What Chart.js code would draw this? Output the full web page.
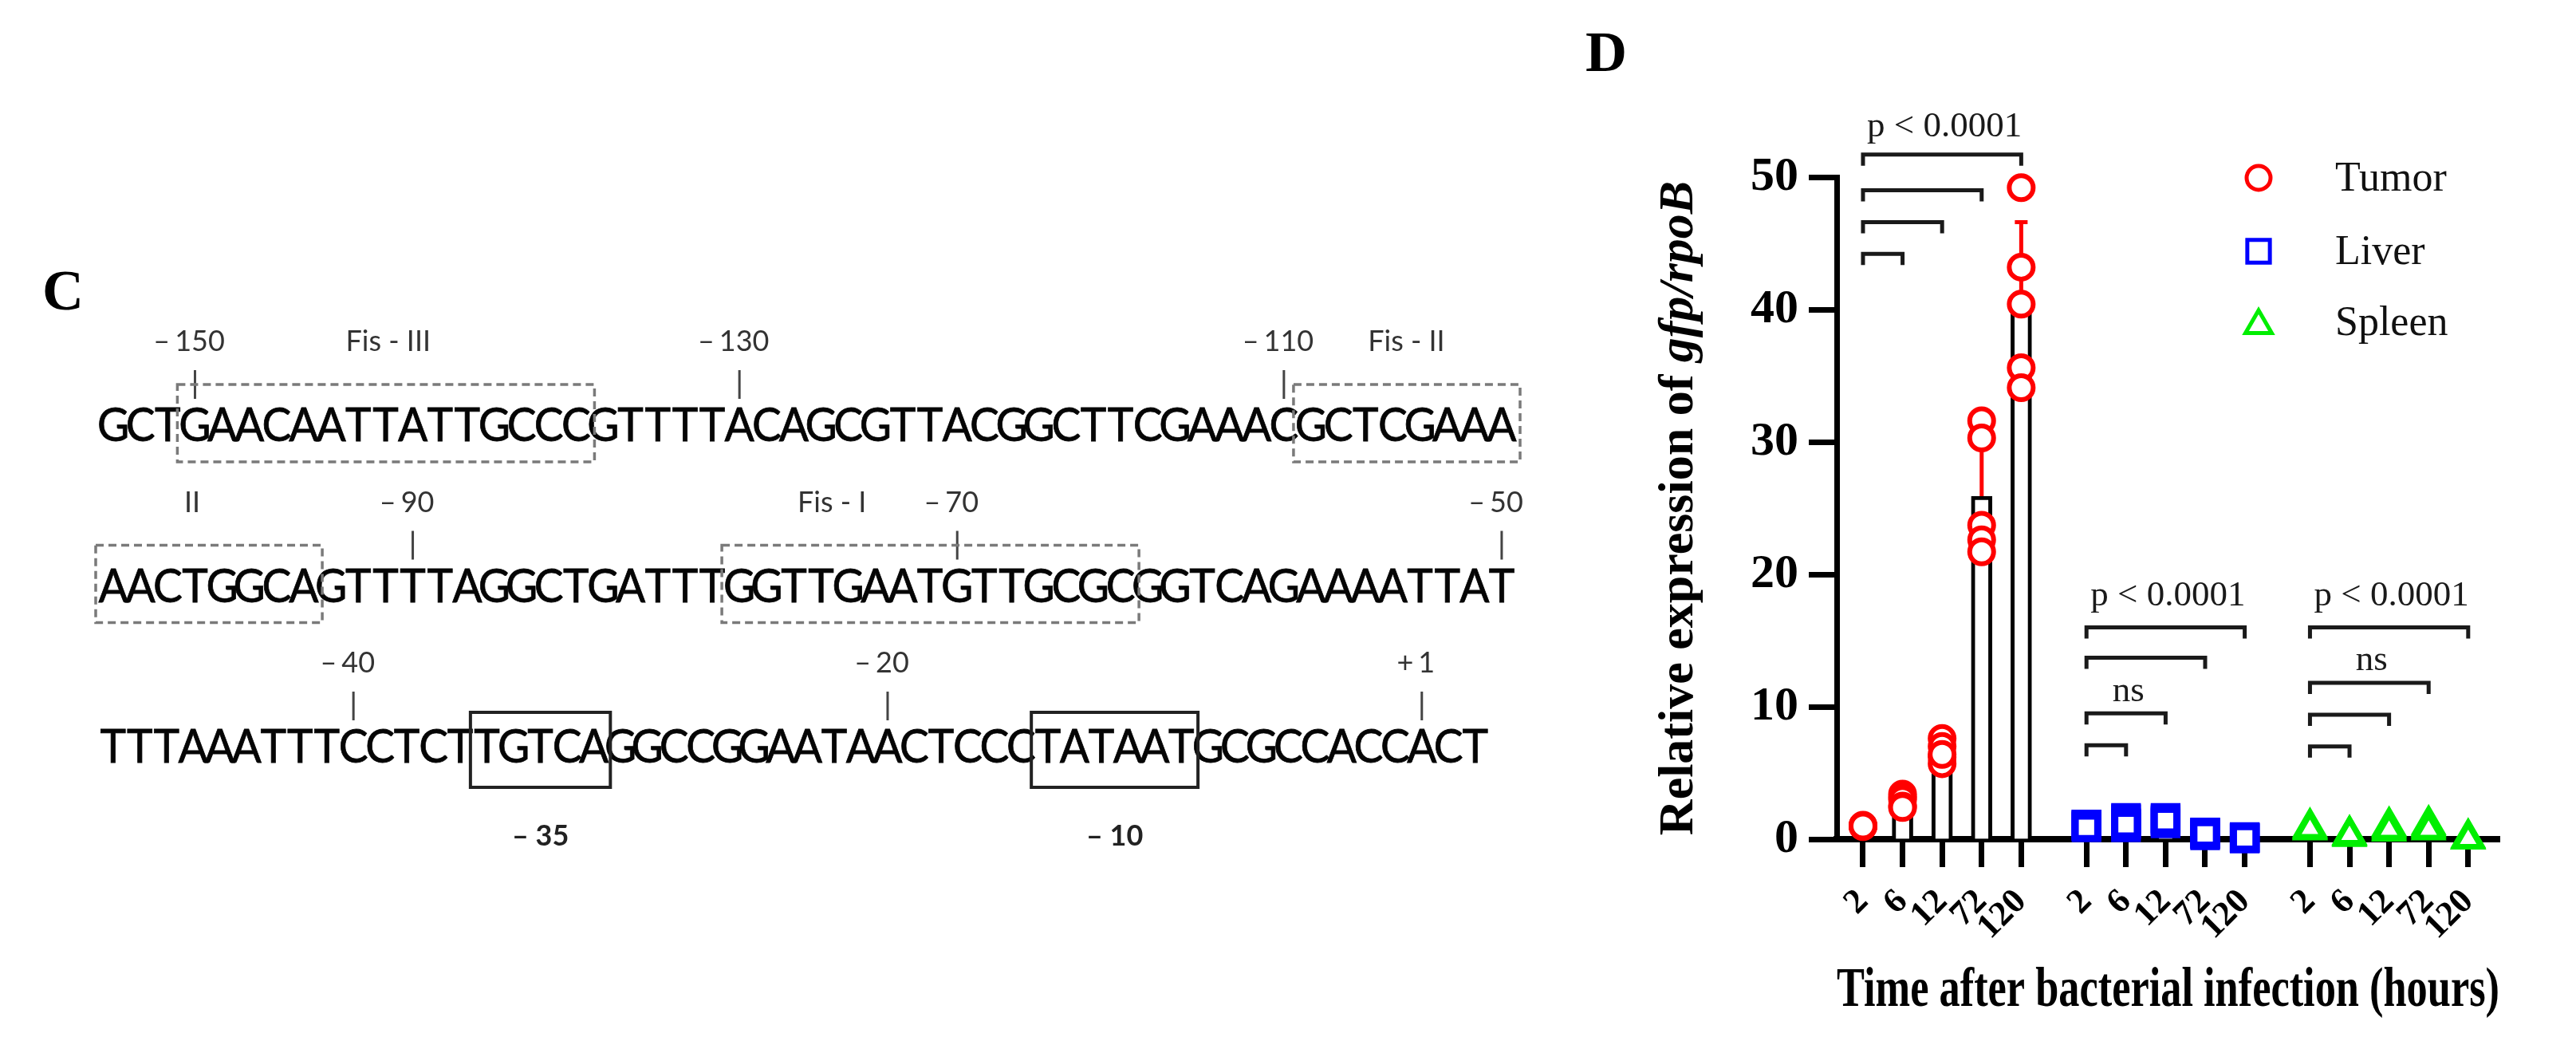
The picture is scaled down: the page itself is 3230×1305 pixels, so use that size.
<!DOCTYPE html>
<html>
<head>
<meta charset="utf-8">
<title>Fis promoter / gfp expression</title>
<script src="https://cdn.jsdelivr.net/npm/chart.js@4.4.1/dist/chart.umd.min.js"></script>
<style>
  html, body { margin: 0; padding: 0; background: #fff; }
  #wrap { position: relative; width: 3230px; height: 1305px; }
  #panelC { position: absolute; left: 0; top: 0; }
  #panelD { position: absolute; left: 1960px; top: 0; }
</style>
</head>
<body>
<div id="wrap">
  <canvas id="panelC" width="1960" height="1305"></canvas>
  <canvas id="panelD" width="1270" height="1305"></canvas>
</div>
<script>
// ---------- panel C : promoter sequence ----------
const seqRows = [
  'GCTGAACAATTATTGCCCGTTTTACAGCGTTACGGCTTCGAAACGCTCGAAA',
  'AACTGGCAGTTTTAGGCTGATTTGGTTGAATGTTGCGCGGTCAGAAAATTAT',
  'TTTAAATTTCCTCTTGTCAGGCCGGAATAACTCCCTATAATGCGCCACCACT'
]
// numbered positions: row, base index in the row, label
const posRows = [0, 0, 0, 1, 1, 1, 2, 2, 2]
const posBases = [3, 23, 43, 11, 31, 51, 9, 29, 49]
const posSigns = ['–', '–', '–', '–', '–', '–', '–', '–', '+']
const posNums = ['150', '130', '110', '90', '70', '50', '40', '20', '1']
// Fis binding sites (dashed boxes)
const fisRows = [0, 0, 1, 1]
const fisFrom = [3, 44, 0, 23]
const fisTo = [17, 51, 7, 37]
const fisLabelRows = [0, 0, 1, 1]
const fisLabelAt = [10.6, 48, 3.4, 26.9]
const fisLabelText = ['Fis - III', 'Fis - II', 'II', 'Fis - I']
// -35 / -10 boxes on row 3
const boxFrom = [14, 35]
const boxTo = [18, 40]
const boxText = ['– 35', '– 10']

const serif = '"Liberation Serif", "Times New Roman", serif'
const sans = 'Lato, "Open Sans", sans-serif'

const seqPlugin = {
  id: 'seqPlugin',
  afterDraw(chart) {
    const ctx = chart.ctx
    const y = chart.scales.y
    const xs = r => r === 2 ? chart.scales.x3 : chart.scales.x
    ctx.save()
    // panel letter
    ctx.fillStyle = '#000'
    ctx.font = 'bold 72px ' + serif
    ctx.textAlign = 'center'
    ctx.textBaseline = 'alphabetic'
    ctx.fillText('C', 79, 388)

    // bases
    ctx.font = '58px ' + sans
    ctx.fillStyle = '#050505'
    ctx.strokeStyle = '#050505'
    ctx.lineWidth = 0.8
    seqRows.forEach((s, r) => {
      const sx = xs(r)
      const yc = y.getPixelForValue(r)
      for (let i = 0; i < s.length; i++) {
        const cx = sx.getPixelForValue(i + 0.5)
        ctx.save()
        ctx.translate(cx, yc + 20)
        ctx.scale(0.95, 1)
        ctx.fillText(s[i], 0, 0)
        ctx.strokeText(s[i], 0, 0)
        ctx.restore()
      }
    })

    // position ticks + numbers
    ctx.font = '36px ' + sans
    ctx.fillStyle = '#333'
    ctx.strokeStyle = '#444'
    ctx.lineWidth = 3
    posBases.forEach((b, k) => {
      const r = posRows[k]
      const cx = xs(r).getPixelForValue(b + 0.5)
      const yc = y.getPixelForValue(r)
      ctx.beginPath()
      ctx.moveTo(cx, yc - 69)
      ctx.lineTo(cx, yc - 33)
      ctx.stroke()
      const nw = ctx.measureText(posNums[k]).width
      ctx.textAlign = 'center'
      ctx.fillText(posNums[k], cx + 6, yc - 93)
      ctx.textAlign = 'right'
      ctx.fillText(posSigns[k], cx + 6 - nw / 2 - 6, yc - 93)
    })

    // Fis labels
    ctx.textAlign = 'center'
    fisLabelText.forEach((t, k) => {
      const r = fisLabelRows[k]
      ctx.fillText(t, xs(r).getPixelForValue(fisLabelAt[k]), y.getPixelForValue(r) - 93)
    })

    // dashed boxes
    ctx.setLineDash([10, 6])
    ctx.strokeStyle = '#7a7a7a'
    ctx.lineWidth = 3.5
    fisFrom.forEach((f, k) => {
      const r = fisRows[k]
      const x0 = xs(r).getPixelForValue(f) - 5
      const x1 = xs(r).getPixelForValue(fisTo[k] + 1) + 6
      const yc = y.getPixelForValue(r)
      ctx.strokeRect(x0, yc - 51, x1 - x0, 97)
    })
    ctx.setLineDash([])

    // solid boxes -35 / -10
    ctx.strokeStyle = '#222'
    ctx.lineWidth = 4
    ctx.fillStyle = '#222'
    ctx.font = 'bold 36px ' + sans
    boxFrom.forEach((f, k) => {
      const x0 = xs(2).getPixelForValue(f) - 4
      const x1 = xs(2).getPixelForValue(boxTo[k] + 1) + 4
      const yc = y.getPixelForValue(2)
      ctx.strokeRect(x0, yc - 43, x1 - x0, 94)
      ctx.fillText(boxText[k], (x0 + x1) / 2, yc + 124)
    })
    ctx.restore()
  }
}

new Chart(document.getElementById('panelC'), {
  type: 'scatter',
  data: { datasets: [] },
  options: {
    responsive: false,
    animation: false,
    devicePixelRatio: 1,
    layout: { padding: { left: 125, right: 60, top: 533, bottom: 369 } },
    plugins: { legend: { display: false }, tooltip: { enabled: false } },
    scales: {
      x: { type: 'linear', min: 0, max: 52, display: false },
      x3: { type: 'linear', axis: 'x', min: 0, max: 53, display: false },
      y: { type: 'linear', min: 0, max: 2, reverse: true, display: false }
    }
  },
  plugins: [seqPlugin]
})

// ---------- panel D : gfp/rpoB expression ----------
const timeLabels = ['2', '6', '12', '72', '120']
const groupNames = ['Tumor', 'Liver', 'Spleen']
const groupColors = ['#ff0000', '#0000ff', '#00ee00']
const groupStyles = ['circle', 'rect', 'triangle']

// individual values (5 animals per time point)
const tumorValues = [
  [1.0, 1.05, 0.95, 1.0, 1.0],
  [3.4, 3.2, 3.0, 2.5, 2.4],
  [7.6, 7.0, 6.2, 5.7, 6.4],
  [31.6, 30.3, 23.7, 22.6, 21.7],
  [49.2, 43.2, 40.4, 35.6, 34.1]
]
const liverValues = [
  [1.1, 1.0, 1.0, 1.1, 0.9],
  [1.6, 1.5, 1.2, 0.9, 1.1],
  [1.6, 1.5, 1.3, 1.2, 1.4],
  [0.5, 0.4, 0.5, 0.3, 0.4],
  [0.1, 0.1, 0.15, 0.05, 0.1]
]
const spleenValues = [
  [0.9, 0.8, 0.7, 0.8, 0.75],
  [0.3, 0.25, 0.35, 0.2, 0.3],
  [1.0, 0.8, 0.6, 0.9, 0.7],
  [1.1, 0.9, 0.8, 1.0, 0.7],
  [0.0, 0.05, 0.0, 0.1, 0.0]
]
// bar heights (mean) and SD
const tumorMean = [1.0, 2.9, 6.6, 25.9, 40.5]
const tumorSD = [0.05, 0.45, 0.75, 4.6, 6.1]
const liverMean = [1.0, 1.3, 1.4, 0.4, 0.1]
const liverSD = [0.1, 0.3, 0.15, 0.1, 0.04]
const spleenMean = [0.8, 0.3, 0.8, 0.9, 0.03]
const spleenSD = [0.08, 0.06, 0.16, 0.16, 0.04]

// brackets: 2 h compared with 120, 72, 12, 6 h
const bracketEnds = [4, 3, 2, 1]
const tumorBrackets = [51.7, 49.0, 46.6, 44.2]
const liverBrackets = [16.0, 13.7, 9.5, 7.1]
const spleenBrackets = [16.0, 11.8, 9.4, 7.0]
const sigGroup = [0, 1, 1, 2, 2]
const sigTo = [4, 4, 2, 4, 3]
const sigY = [53.1, 17.65, 10.4, 17.65, 12.8]
const sigText = ['p < 0.0001', 'p < 0.0001', 'ns', 'p < 0.0001', 'ns']

const groupValues = [tumorValues, liverValues, spleenValues]
const groupMean = [tumorMean, liverMean, spleenMean]
const groupSD = [tumorSD, liverSD, spleenSD]
const groupBrackets = [tumorBrackets, liverBrackets, spleenBrackets]

const groupStep = 5.65
const posOf = (g, t) => g * groupStep + t
const tickPositions = []
groupNames.forEach((n, g) => timeLabels.forEach((l, t) => tickPositions.push(posOf(g, t))))
const tickText = v => {
  const i = tickPositions.findIndex(p => Math.abs(p - v) < 1e-6)
  return i < 0 ? '' : timeLabels[i % timeLabels.length]
}

const pointRadius = [15, 20, 19]
const pointBorder = [6, 9, 7]

const scatterSets = groupValues.map((vals, g) => ({
  type: 'scatter',
  label: groupNames[g],
  data: vals.flatMap((arr, t) => arr.map(v => ({ x: posOf(g, t), y: v }))),
  pointStyle: groupStyles[g],
  pointRadius: pointRadius[g],
  pointBorderWidth: pointBorder[g],
  pointBorderColor: groupColors[g],
  pointBackgroundColor: '#fff',
  clip: false
}))

const barSet = {
  type: 'bar',
  label: 'mean',
  data: groupMean.flatMap((m, g) => m.map((v, t) => ({ x: posOf(g, t), y: v }))),
  backgroundColor: '#fff',
  borderColor: '#000',
  borderWidth: 5,
  barThickness: 26,
  clip: false
}

const errorBars = {
  id: 'errorBars',
  afterDatasetDraw(chart, args) {
    if (args.index !== 3) return
    const { ctx, scales: { x, y } } = chart
    ctx.save()
    ctx.lineWidth = 5
    groupMean.forEach((means, g) => {
      ctx.strokeStyle = groupColors[g]
      means.forEach((m, t) => {
        const px = x.getPixelForValue(posOf(g, t))
        const y0 = y.getPixelForValue(m)
        const y1 = y.getPixelForValue(m + groupSD[g][t])
        ctx.beginPath()
        ctx.moveTo(px, y0)
        ctx.lineTo(px, y1)
        ctx.moveTo(px - 8, y1)
        ctx.lineTo(px + 8, y1)
        ctx.stroke()
      })
    })
    ctx.restore()
  }
}

const extras = {
  id: 'extras',
  afterDraw(chart) {
    const { ctx, scales: { x, y } } = chart
    ctx.save()
    // panel letter
    ctx.fillStyle = '#000'
    ctx.font = 'bold 72px ' + serif
    ctx.textAlign = 'left'
    ctx.textBaseline = 'alphabetic'
    ctx.fillText('D', 28, 89)

    // y title with italic gene names
    const t1 = 'Relative expression of '
    const t2 = 'gfp/rpoB'
    const f1 = 'bold 62px ' + serif
    const f2 = 'italic bold 62px ' + serif
    ctx.font = f1
    const w1 = ctx.measureText(t1).width
    ctx.font = f2
    const w2 = ctx.measureText(t2).width
    ctx.translate(162, (y.top + y.bottom) / 2)
    ctx.rotate(-Math.PI / 2)
    ctx.textAlign = 'left'
    ctx.font = f1
    ctx.fillText(t1, -(w1 + w2) / 2, 0)
    ctx.font = f2
    ctx.fillText(t2, -(w1 + w2) / 2 + w1, 0)
    ctx.setTransform(1, 0, 0, 1, 0, 0)

    // significance brackets
    ctx.strokeStyle = '#1a1a1a'
    ctx.lineWidth = 5
    groupBrackets.forEach((levels, g) => {
      levels.forEach((lv, k) => {
        const xa = x.getPixelForValue(posOf(g, 0))
        const xb = x.getPixelForValue(posOf(g, bracketEnds[k]))
        const py = y.getPixelForValue(lv)
        ctx.beginPath()
        ctx.moveTo(xa, py + 14)
        ctx.lineTo(xa, py)
        ctx.lineTo(xb, py)
        ctx.lineTo(xb, py + 14)
        ctx.stroke()
      })
    })
    ctx.fillStyle = '#1a1a1a'
    ctx.font = '45px ' + serif
    ctx.textAlign = 'center'
    sigText.forEach((s, k) => {
      const g = sigGroup[k]
      const xm = (x.getPixelForValue(posOf(g, 0)) + x.getPixelForValue(posOf(g, sigTo[k]))) / 2
      ctx.fillText(s, xm + 3, y.getPixelForValue(sigY[k]))
    })

    // legend
    const legY = [223, 315, 404]
    ctx.font = '52px ' + serif
    ctx.textAlign = 'left'
    ctx.textBaseline = 'middle'
    groupNames.forEach((n, g) => {
      ctx.fillStyle = '#fff'
      ctx.strokeStyle = groupColors[g]
      Chart.helpers.drawPoint(ctx, {
        pointStyle: groupStyles[g],
        radius: pointRadius[g],
        borderWidth: pointBorder[g],
        rotation: 0
      }, 872, legY[g] + (g === 2 ? 4 : 0))
      ctx.fillStyle = '#111'
      ctx.fillText(n, 968, legY[g] + 2)
    })
    ctx.restore()
  }
}

new Chart(document.getElementById('panelD'), {
  type: 'bar',
  data: { datasets: [...scatterSets, barSet] },
  options: {
    responsive: false,
    animation: false,
    devicePixelRatio: 1,
    layout: { padding: { left: 0, right: 96, top: 222, bottom: 0 } },
    plugins: { legend: { display: false }, tooltip: { enabled: false } },
    scales: {
      x: {
        type: 'linear',
        min: -0.665,
        max: 16.09,
        offset: false,
        afterBuildTicks: axis => { axis.ticks = tickPositions.map(v => ({ value: v })) },
        afterFit: axis => { axis.height = 253 },
        grid: { offset: false, drawOnChartArea: false, drawTicks: true, tickLength: 35, tickWidth: 7, tickColor: '#000', color: '#000' },
        border: { display: true, color: '#000', width: 8 },
        ticks: {
          autoSkip: false,
          maxRotation: 45,
          minRotation: 45,
          padding: 18,
          color: '#000',
          font: { family: serif, weight: 'bold', size: 44 },
          callback: v => tickText(v)
        },
        title: {
          display: true,
          text: 'Time after bacterial infection (hours)',
          color: '#000',
          font: { family: serif, weight: 'bold', size: 70 },
          padding: { top: 0, bottom: 20 }
        }
      },
      y: {
        type: 'linear',
        min: 0,
        max: 50,
        afterFit: axis => { axis.width = 343 },
        grid: { drawOnChartArea: false, drawTicks: true, tickLength: 35, tickWidth: 7, tickColor: '#000', color: '#000' },
        border: { display: true, color: '#000', width: 7 },
        ticks: {
          stepSize: 10,
          padding: 13,
          color: '#000',
          font: { family: serif, weight: 'bold', size: 60 }
        }
      }
    }
  },
  plugins: [errorBars, extras]
})
</script>
</body>
</html>
